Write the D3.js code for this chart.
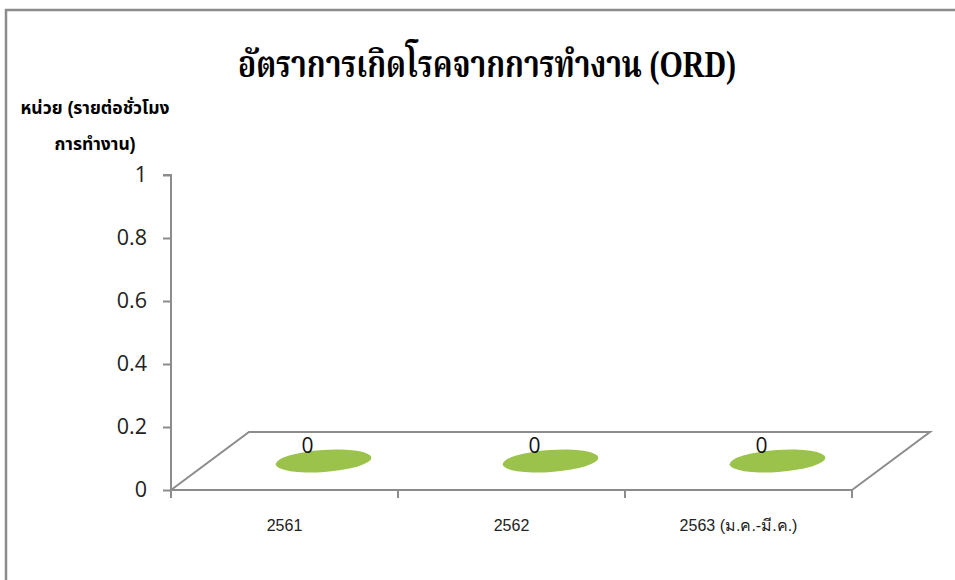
<!DOCTYPE html>
<html>
<head>
<meta charset="utf-8">
<script src="https://cdn.jsdelivr.net/npm/d3@7/dist/d3.min.js"></script>
<style>
  html, body { margin: 0; padding: 0; background: #fff; }
  svg { display: block; }
</style>
</head>
<body>
<div id="chart"></div>
<script>
// Occupational disease rate (ORD), per working hour
const categories = ["2561", "2562", "2563 (ม.ค.-มี.ค.)"];
const values = [0, 0, 0];
const yTicks = [0, 0.2, 0.4, 0.6, 0.8, 1];
const yTickLabels = ["0", "0.2", "0.4", "0.6", "0.8", "1"];
const titleText = "อัตราการเกิดโรคจากการทำงาน (ORD)";
const yTitleLines = ["หน่วย (รายต่อชั่วโมง", "การทำงาน)"];

const W = 955, H = 580;
const svg = d3.select("#chart").append("svg").attr("width", W).attr("height", H);

// chart frame
svg.append("rect")
  .attr("x", 6).attr("y", 10).attr("width", 1000).attr("height", 700)
  .attr("fill", "#fff").attr("stroke", "#8c8c8c").attr("stroke-width", 2.5);

// plot area
const x0 = 171, x1 = 852, yBase = 490, yTop = 175;
const depthX = 78, depthY = -58; // 3-D floor depth offset

const x = d3.scaleBand().domain(categories).range([x0, x1]).padding(0);
const y = d3.scaleLinear().domain([0, 1]).range([yBase, yTop]);

const axisColor = "#8c8c8c";

// floor (3-D base plane)
svg.append("path")
  .attr("d", `M${x0},${yBase} L${x0 + depthX},${yBase + depthY} L${x1 + depthX},${yBase + depthY} L${x1},${yBase}`)
  .attr("fill", "none").attr("stroke", axisColor).attr("stroke-width", 2);

// y axis
const yAxis = d3.axisLeft(y).tickValues(yTicks).tickSize(8)
  .tickFormat((d, i) => yTickLabels[i]).tickPadding(16);
const gy = svg.append("g").attr("transform", `translate(${x0},0)`).call(yAxis);
gy.select(".domain").attr("stroke", axisColor).attr("stroke-width", 2)
  .attr("d", `M-8,${yTop}H0V${yBase}`);
gy.selectAll(".tick line").attr("stroke", axisColor).attr("stroke-width", 2);
gy.selectAll(".tick text")
  .attr("font-family", "'Open Sans', 'Liberation Sans', sans-serif")
  .attr("font-size", 21.5).attr("fill", "#222");

// x axis
const xAxis = d3.axisBottom(x).tickSize(0).tickPadding(30);
const gx = svg.append("g").attr("transform", `translate(0,${yBase})`).call(xAxis);
gx.select(".domain").attr("stroke", axisColor).attr("stroke-width", 2).attr("d", `M${x0},0H${x1}`);
gx.selectAll(".tick text")
  .attr("font-family", "'Liberation Sans', Arial, sans-serif")
  .attr("font-size", 16).attr("fill", "#222");
// category boundary ticks
const bounds = categories.map(c => x(c)).concat([x1]);
gx.selectAll("line.bound").data(bounds).enter().append("line")
  .attr("class", "bound")
  .attr("x1", d => d).attr("x2", d => d).attr("y1", 0).attr("y2", 8)
  .attr("stroke", axisColor).attr("stroke-width", 2);

// markers: flat discs at mid-depth, at the value height
const marks = svg.append("g");
categories.forEach((c, i) => {
  const cx = x(c) + x.bandwidth() / 2 + depthX / 2;
  const cy = y(values[i]) + depthY / 2;
  marks.append("ellipse")
    .attr("cx", cx).attr("cy", cy)
    .attr("rx", 48).attr("ry", 11)
    .attr("transform", `rotate(-4,${cx},${cy})`)
    .attr("fill", "#9bc34c");
  marks.append("text")
    .attr("x", cx - 16).attr("y", cy - 8)
    .attr("text-anchor", "middle")
    .attr("font-family", "'Open Sans', 'Liberation Sans', sans-serif")
    .attr("font-size", 21).attr("fill", "#111")
    .text(values[i]);
});

// title
svg.append("text")
  .attr("x", 238).attr("y", 77)
  .attr("textLength", 498).attr("lengthAdjust", "spacingAndGlyphs")
  .attr("font-family", "'Liberation Serif', 'Noto Serif Thai', serif")
  .attr("font-weight", "bold").attr("font-size", 38).attr("fill", "#000")
  .text(titleText);

// y axis title (two lines)
svg.append("g").selectAll("text").data(yTitleLines).enter().append("text")
  .attr("x", 95).attr("y", (d, i) => 114 + i * 36)
  .attr("text-anchor", "middle")
  .attr("font-family", "'Liberation Sans', 'Noto Sans Thai', sans-serif")
  .attr("font-weight", "bold").attr("font-size", 17.5).attr("fill", "#000")
  .text(d => d);
</script>
</body>
</html>
